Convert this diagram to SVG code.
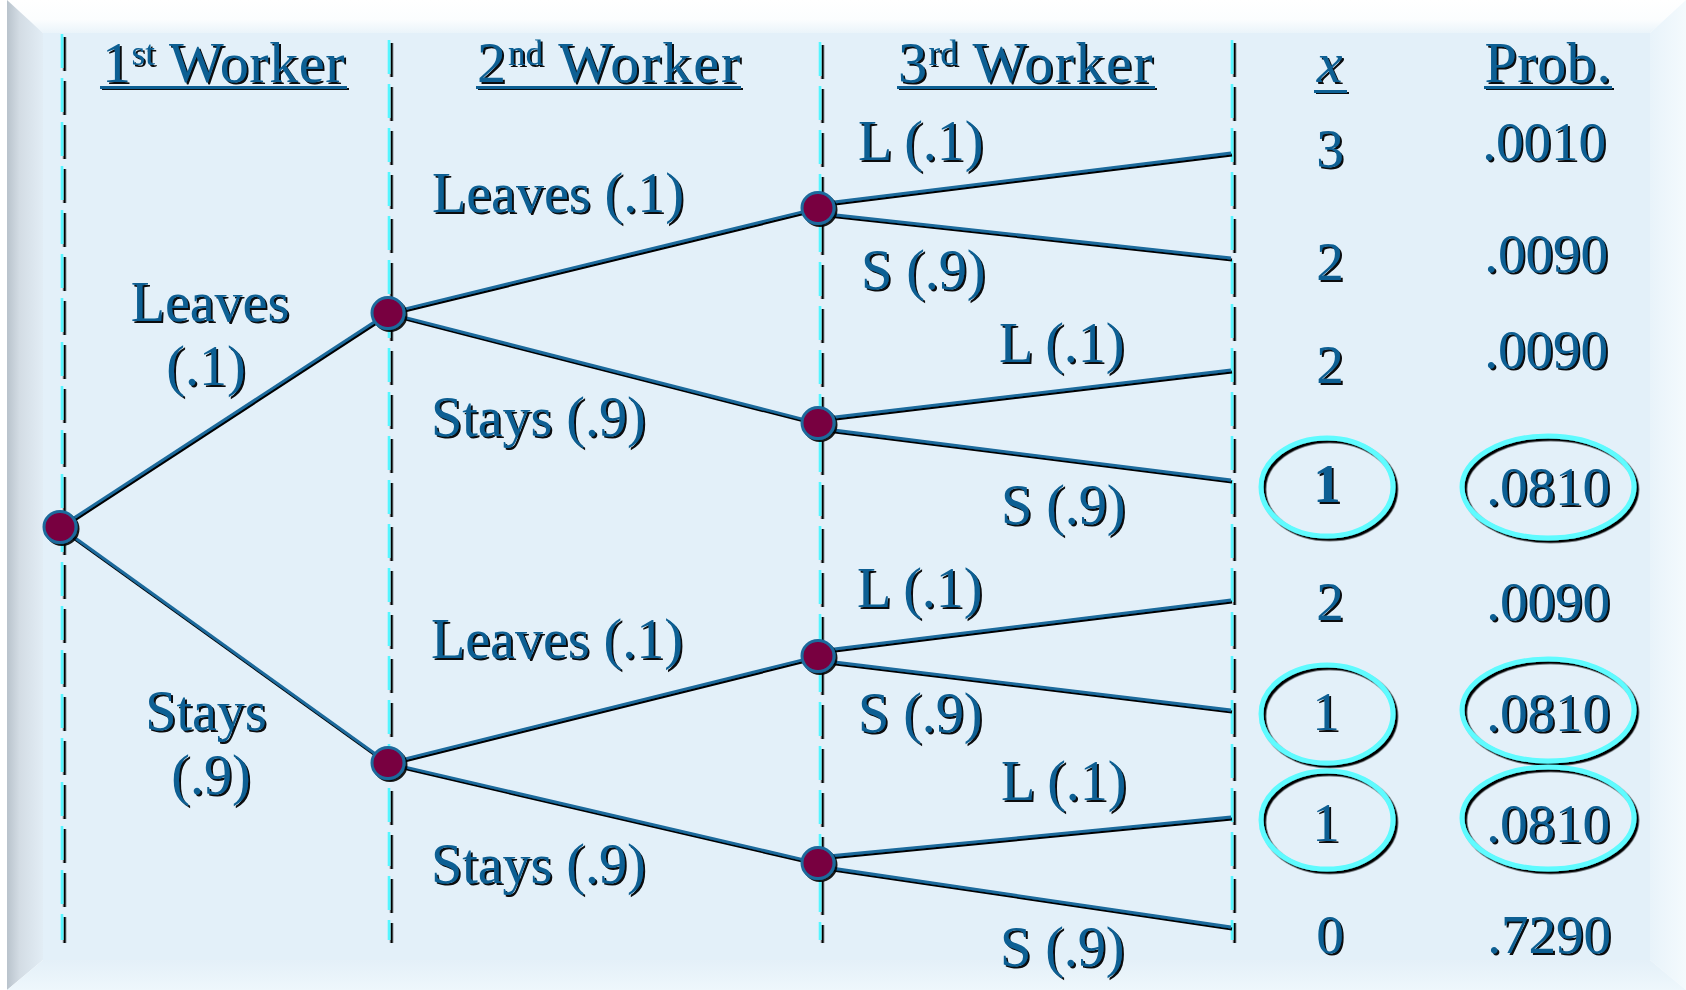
<svg xmlns="http://www.w3.org/2000/svg" width="1686" height="990" viewBox="0 0 1686 990">
<defs>
<style>
.t{font-family:"Liberation Serif","Times New Roman",serif;fill:#0B5F93;font-size:56px;filter:url(#ts)}
.h{font-size:58px;letter-spacing:0.6px}
.sup{font-size:35px;letter-spacing:0}
.c{text-anchor:middle}
.n{font-size:55px;text-anchor:middle}
.ul{fill:#0B5F93;filter:url(#ts)}
.br{stroke:#1B6A9C;stroke-width:2.8;fill:none;filter:url(#ls)}
.dash{stroke:#55F6FF;stroke-width:2.6;stroke-dasharray:34 10;filter:url(#ds)}
.node{fill:#780041;stroke:#1B6A9C;stroke-width:3;filter:url(#ns)}
.ring{fill:none;stroke:#5EFBFF;stroke-width:5;filter:url(#rs)}
</style>
<filter id="ts" x="-10%" y="-10%" width="120%" height="130%"><feDropShadow dx="2" dy="2" stdDeviation="0.4" flood-color="#000" flood-opacity="0.95"/></filter>
<filter id="ls" filterUnits="userSpaceOnUse" x="0" y="0" width="1686" height="990"><feDropShadow dx="1" dy="2" stdDeviation="0.2" flood-color="#000" flood-opacity="1"/></filter>
<filter id="ds" filterUnits="userSpaceOnUse" x="0" y="0" width="1686" height="990"><feDropShadow dx="2.6" dy="3" stdDeviation="0.2" flood-color="#000" flood-opacity="1"/></filter>
<filter id="ns" x="-30%" y="-30%" width="160%" height="160%"><feDropShadow dx="2" dy="2" stdDeviation="0.5" flood-color="#000" flood-opacity="0.9"/></filter>
<filter id="rs" x="-10%" y="-10%" width="120%" height="125%"><feDropShadow dx="2.5" dy="2.5" stdDeviation="0.3" flood-color="#000" flood-opacity="1"/></filter>
<linearGradient id="gTop" x1="0" y1="0" x2="0" y2="1"><stop offset="0" stop-color="#FFFFFF"/><stop offset="0.6" stop-color="#FBFDFE"/><stop offset="1" stop-color="#EAF4FA"/></linearGradient>
<linearGradient id="gLeft" x1="0" y1="0" x2="1" y2="0"><stop offset="0" stop-color="#B9C3CC"/><stop offset="0.35" stop-color="#D3DCE4"/><stop offset="1" stop-color="#E2EDF5"/></linearGradient>
<linearGradient id="gRight" x1="0" y1="0" x2="1" y2="0"><stop offset="0" stop-color="#E8F3FA"/><stop offset="1" stop-color="#F4FAFD"/></linearGradient>
<linearGradient id="gBot" x1="0" y1="0" x2="0" y2="1"><stop offset="0" stop-color="#E4F0F8"/><stop offset="1" stop-color="#EEF7FC"/></linearGradient>
</defs>

<g id="panel">
<rect x="0" y="0" width="1686" height="990" fill="#FFFFFF"/>
<rect x="43" y="33" width="1607" height="927" fill="#E3F0F9"/>
<polygon points="7,0 1686,0 1650,33 43,33" fill="url(#gTop)"/>
<polygon points="7,0 43,33 43,960 7,990" fill="url(#gLeft)"/>
<polygon points="1686,0 1686,990 1650,960 1650,33" fill="url(#gRight)"/>
<polygon points="7,990 43,960 1650,960 1686,990" fill="url(#gBot)"/>
</g>

<g id="dividers">
<line class="dash" x1="62" y1="34" x2="62" y2="940"/>
<line class="dash" x1="389" y1="40" x2="389" y2="940"/>
<line class="dash" x1="820" y1="42" x2="820" y2="940"/>
<line class="dash" x1="1232" y1="40" x2="1232" y2="940"/>
</g>

<g id="headers">
<text class="t h" x="102" y="82">1<tspan class="sup" dy="-17">st</tspan><tspan dy="17"> Worker</tspan></text>
<rect class="ul" x="100" y="86" width="247" height="3"/>
<text class="t h" x="477" y="82" style="letter-spacing:1.9px">2<tspan class="sup" dy="-17">nd</tspan><tspan dy="17"> Worker</tspan></text>
<rect class="ul" x="476" y="86" width="265" height="3"/>
<text class="t h" x="898" y="82" style="letter-spacing:1.5px">3<tspan class="sup" dy="-17">rd</tspan><tspan dy="17"> Worker</tspan></text>
<rect class="ul" x="897" y="86" width="258" height="3"/>
<text class="t h c" x="1330" y="82" font-style="italic">x</text>
<rect class="ul" x="1314" y="90" width="33" height="3"/>
<text class="t h c" x="1548" y="82">Prob.</text>
<rect class="ul" x="1484" y="86" width="128" height="3"/>
</g>

<g id="connectors">
<line class="br" x1="60" y1="527" x2="388" y2="313"/>
<line class="br" x1="60" y1="527" x2="388" y2="763"/>
<line class="br" x1="388" y1="313" x2="818" y2="208"/>
<line class="br" x1="388" y1="313" x2="818" y2="423"/>
<line class="br" x1="388" y1="763" x2="818" y2="656"/>
<line class="br" x1="388" y1="763" x2="818" y2="863"/>
<line class="br" x1="818" y1="204" x2="1231" y2="153"/>
<line class="br" x1="818" y1="213" x2="1231" y2="258"/>
<line class="br" x1="818" y1="419" x2="1231" y2="370"/>
<line class="br" x1="818" y1="428" x2="1231" y2="480"/>
<line class="br" x1="818" y1="651" x2="1231" y2="600"/>
<line class="br" x1="818" y1="660" x2="1231" y2="710"/>
<line class="br" x1="818" y1="857" x2="1231" y2="817"/>
<line class="br" x1="818" y1="866" x2="1231" y2="927"/>
</g>

<g id="node-root"><ellipse class="node" cx="60" cy="527" rx="16" ry="15.5"/></g>
<g id="node-L"><ellipse class="node" cx="388" cy="313" rx="16" ry="15.5"/></g>
<g id="node-S"><ellipse class="node" cx="388" cy="763" rx="16" ry="15.5"/></g>
<g id="node-LL"><ellipse class="node" cx="818" cy="208" rx="16" ry="15.5"/></g>
<g id="node-LS"><ellipse class="node" cx="818" cy="423" rx="16" ry="15.5"/></g>
<g id="node-SL"><ellipse class="node" cx="818" cy="656" rx="16" ry="15.5"/></g>
<g id="node-SS"><ellipse class="node" cx="818" cy="863" rx="16" ry="15.5"/></g>

<g id="branch-labels">
<text class="t c" x="210" y="321">Leaves</text>
<text class="t c" x="206" y="385">(.1)</text>
<text class="t c" x="206" y="730">Stays</text>
<text class="t c" x="211" y="794">(.9)</text>
<text class="t" x="432" y="212">Leaves (.1)</text>
<text class="t" x="431" y="436">Stays (.9)</text>
<text class="t" x="431" y="658">Leaves (.1)</text>
<text class="t" x="431" y="883">Stays (.9)</text>
<text class="t" x="858" y="160">L (.1)</text>
<text class="t" x="861" y="289">S (.9)</text>
<text class="t" x="999" y="362">L (.1)</text>
<text class="t" x="1001" y="524">S (.9)</text>
<text class="t" x="857" y="607">L (.1)</text>
<text class="t" x="858" y="732">S (.9)</text>
<text class="t" x="1001" y="800">L (.1)</text>
<text class="t" x="1000" y="966">S (.9)</text>
</g>

<g id="outcomes">
<ellipse class="ring" cx="1327" cy="487" rx="66" ry="49"/>
<ellipse class="ring" cx="1548" cy="487" rx="86" ry="51"/>
<ellipse class="ring" cx="1327" cy="714" rx="66" ry="49"/>
<ellipse class="ring" cx="1548" cy="710" rx="86" ry="51"/>
<ellipse class="ring" cx="1327" cy="820" rx="66" ry="49"/>
<ellipse class="ring" cx="1548" cy="818" rx="86" ry="51"/>
<text class="t n" x="1330" y="167">3</text>
<text class="t n" x="1544" y="160">.0010</text>
<text class="t n" x="1330" y="280">2</text>
<text class="t n" x="1546" y="272">.0090</text>
<text class="t n" x="1330" y="383">2</text>
<text class="t n" x="1546" y="368">.0090</text>
<text class="t n" x="1327" y="502" font-weight="bold">1</text>
<text class="t n" x="1548" y="505">.0810</text>
<text class="t n" x="1330" y="620">2</text>
<text class="t n" x="1548" y="620">.0090</text>
<text class="t n" x="1326" y="730">1</text>
<text class="t n" x="1548" y="731">.0810</text>
<text class="t n" x="1326" y="841">1</text>
<text class="t n" x="1548" y="842">.0810</text>
<text class="t n" x="1330" y="953">0</text>
<text class="t n" x="1549" y="953">.7290</text>
</g>
</svg>
